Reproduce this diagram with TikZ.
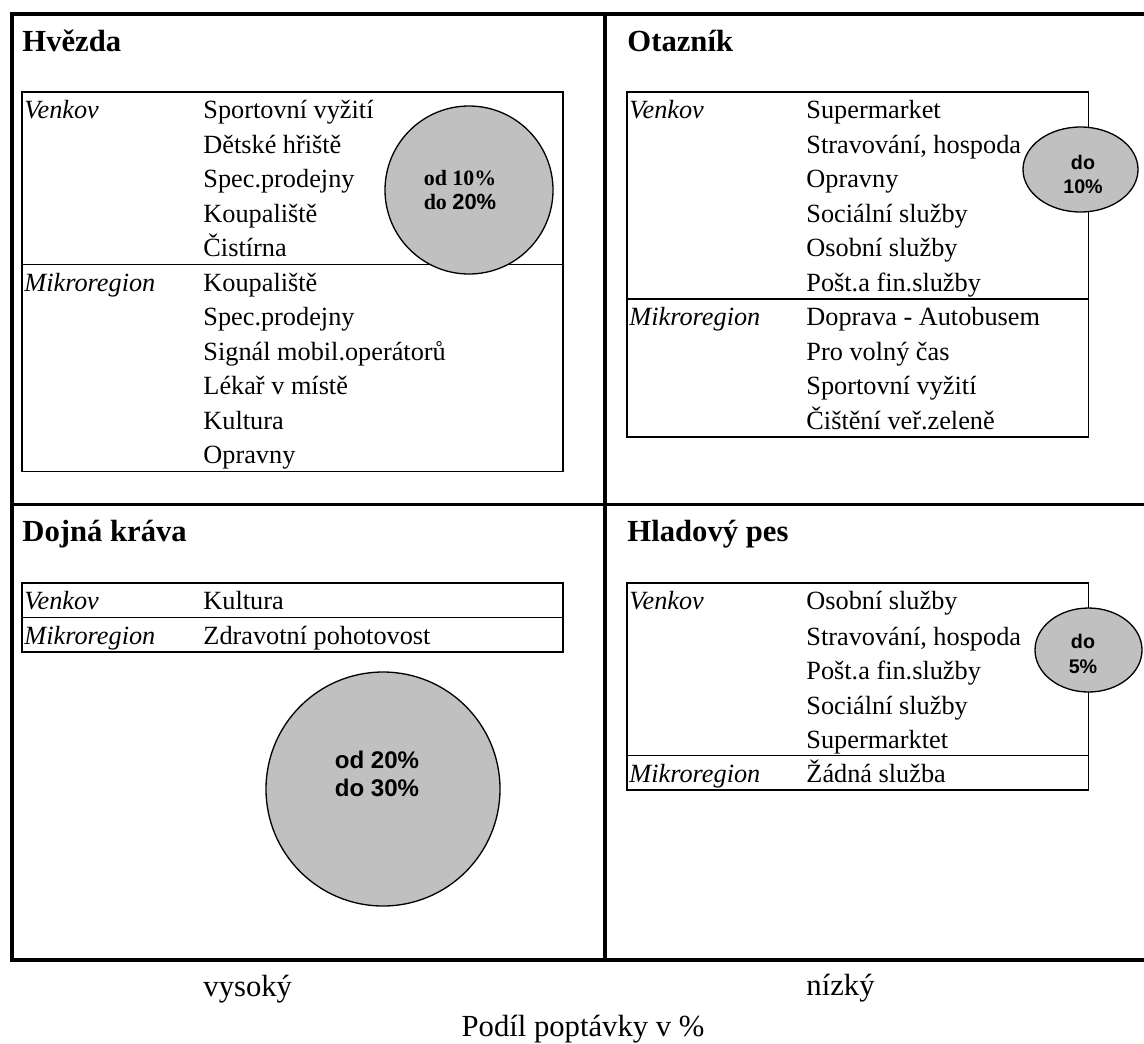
\documentclass[tikz,border=0pt]{standalone}
\usepackage{fontspec}
\setmainfont{Liberation Serif}
\setsansfont{Liberation Sans}
\usepackage{tikz}
\usetikzlibrary{shapes.geometric}
\definecolor{bubbleGray}{RGB}{192,192,192}
\newlength{\pxu}
\setlength{\pxu}{0.4566pt}

\begin{document}
\begin{tikzpicture}[x=0.4566pt,y=-0.4566pt,
          frame/.style={line width=1.4pt,line join=miter},
          tbl/.style={line width=0.8pt},
          quadname/.style={anchor=base west,inner sep=0,
                        font=\fontsize{14}{16}\selectfont\bfseries},
          item/.style={anchor=base west,inner sep=0,
                        font=\fontsize{12}{14}\selectfont},
          area/.style={anchor=base west,inner sep=0,
                        font=\fontsize{12}{14}\selectfont\itshape},
          bubble/.style={circle,draw,fill=bubbleGray,line width=0.6pt,inner sep=0},
          blob/.style={ellipse,draw,fill=bubbleGray,line width=0.6pt,inner sep=0},
          pct/.style={align=center,inner sep=0,font=\sffamily\bfseries},
          axislbl/.style={anchor=base,inner sep=0,
                        font=\fontsize{14}{16}\selectfont},
        ]
        \useasboundingbox (0,0) rectangle (1144,1043);

        % FRAME
        \draw[frame] (1144,14) -- (12,14) -- (12,960) -- (1144,960);
        \draw[frame] (605,14) -- (605,960);
        \draw[frame] (12,504.5) -- (1144,504.5);

        % HVEZDA
        \node[quadname] (hv) at (22,51) {Hvězda};
        \draw[tbl] (22,92) rectangle (563,471.5);
        \draw[tbl] (22,264.5) -- (563,264.5);
        \node[area] (hvV) at (24,118.5) {Venkov};
        \node[item] (hv1) at (203,118.5) {Sportovní vyžití};
        \node[item] (hv2) at (203,153) {Dětské hřiště};
        \node[item] (hv3) at (203,187.5) {Spec.prodejny};
        \node[item] (hv4) at (203,222) {Koupaliště};
        \node[item] (hv5) at (203,256.5) {Čistírna};
        \node[area] (hvM) at (24,291) {Mikroregion};
        \node[item] (hv6) at (203,291) {Koupaliště};
        \node[item] (hv7) at (203,325.5) {Spec.prodejny};
        \node[item] (hv8) at (203,360) {Signál mobil.operátorů};
        \node[item] (hv9) at (203,394.5) {Lékař v místě};
        \node[item] (hv10) at (203,429) {Kultura};
        \node[item] (hv11) at (203,463.5) {Opravny};
        \node[bubble,minimum size=168\pxu] (hvB) at (469,190) {};
        \node[align=center,inner sep=0,font=\fontsize{10}{11.4}\selectfont\bfseries]
          (hvT) at (460,190) {od 10\%\\do {\sffamily 20\%}};

        % OTAZNIK
        \node[quadname] (ot) at (627,51) {Otazník};
        \draw[tbl] (627,92) rectangle (1088.5,437);
        \draw[tbl] (627,299) -- (1088.5,299);
        \node[area] (otV) at (629,118.5) {Venkov};
        \node[item] (ot1) at (806,118.5) {Supermarket};
        \node[item] (ot2) at (806,153) {Stravování, hospoda};
        \node[item] (ot3) at (806,187.5) {Opravny};
        \node[item] (ot4) at (806,222) {Sociální služby};
        \node[item] (ot5) at (806,256.5) {Osobní služby};
        \node[item] (ot6) at (806,291) {Pošt.a fin.služby};
        \node[area] (otM) at (629,325.5) {Mikroregion};
        \node[item] (ot7) at (806,325.5) {Doprava - Autobusem};
        \node[item] (ot8) at (806,360) {Pro volný čas};
        \node[item] (ot9) at (806,394.5) {Sportovní vyžití};
        \node[item] (ot10) at (806,429) {Čištění veř.zeleně};
        \node[blob,minimum width=115\pxu,minimum height=85\pxu] (otB) at (1080.5,169.5) {};
        \node[pct,font=\sffamily\bfseries\fontsize{9}{11}\selectfont]
          (otT) at (1083,174) {do\\10\%};

        % DOJNA KRAVA
        \node[quadname] (dk) at (22,541.5) {Dojná kráva};
        \draw[tbl] (22,583) rectangle (563,652);
        \draw[tbl] (22,617.5) -- (563,617.5);
        \node[area] (dkV) at (24,609.5) {Venkov};
        \node[item] (dk1) at (203,609.5) {Kultura};
        \node[area] (dkM) at (24,644) {Mikroregion};
        \node[item] (dk2) at (203,644) {Zdravotní pohotovost};
        \node[bubble,minimum size=234\pxu] (dkB) at (383,789) {};
        \node[pct,font=\sffamily\bfseries\fontsize{11}{12.8}\selectfont]
          (dkT) at (377,774) {od 20\%\\do 30\%};

        % HLADOVY PES
        \node[quadname] (hp) at (627,541.5) {Hladový pes};
        \draw[tbl] (627,583) rectangle (1088.5,790);
        \draw[tbl] (627,755.5) -- (1088.5,755.5);
        \node[area] (hpV) at (629,609.5) {Venkov};
        \node[item] (hp1) at (806,609.5) {Osobní služby};
        \node[item] (hp2) at (806,645) {Stravování, hospoda};
        \node[item] (hp3) at (806,679.5) {Pošt.a fin.služby};
        \node[item] (hp4) at (806,714) {Sociální služby};
        \node[item] (hp5) at (806,748) {Supermarktet};
        \node[area] (hpM) at (629,782) {Mikroregion};
        \node[item] (hp6) at (806,782) {Žádná služba};
        \node[blob,minimum width=107\pxu,minimum height=84\pxu] (hpB) at (1088.5,650) {};
        \node[pct,font=\sffamily\bfseries\fontsize{9}{11.6}\selectfont]
          (hpT) at (1083,654) {do\\5\%};

        % AXIS
        \node[item,font=\fontsize{14}{16}\selectfont] (hi) at (203,996) {vysoký};
        \node[item,font=\fontsize{14}{16}\selectfont] (lo) at (806,995) {nízký};
        \node[axislbl] (ax) at (583,1036) {Podíl poptávky v \%};
      \end{tikzpicture}
\end{document}
